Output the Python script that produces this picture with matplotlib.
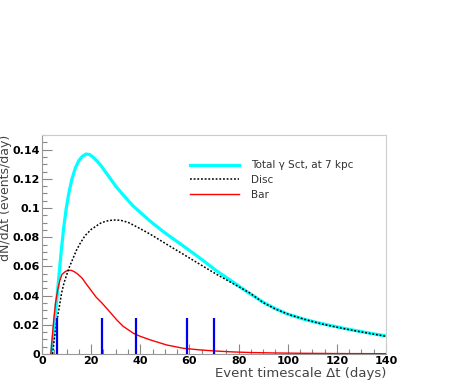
import matplotlib
matplotlib.use("Agg")
import matplotlib.pyplot as plt
from matplotlib.ticker import MultipleLocator, FuncFormatter

# values
total_t = [3.8, 4.5, 5.2, 6.0, 6.8, 7.8, 8.8, 9.8, 10.9, 12.2, 13.6, 15.0, 16.5, 18.0,
           19.5, 21.0, 22.5, 24.0, 27.0, 30.0, 33.0, 37.0, 40.0, 44.0, 50.0, 57.5,
           64.0, 71.0, 78.0, 84.0, 90.0, 95.0, 100.0, 106.0, 112.0, 118.0, 124.0,
           130.0, 135.0, 140.0]
total_v = [0.0, 0.011, 0.022, 0.037, 0.052, 0.070, 0.086, 0.099, 0.110, 0.120, 0.1275,
           0.1325, 0.1355, 0.137, 0.1365, 0.1345, 0.132, 0.129, 0.122, 0.115, 0.109,
           0.1015, 0.097, 0.091, 0.083, 0.074, 0.066, 0.057, 0.049, 0.042, 0.0355,
           0.031, 0.0273, 0.0241, 0.0215, 0.0193, 0.0172, 0.0153, 0.0138, 0.0124]

disc_t = [4.3, 5.0, 6.0, 7.0, 8.0, 9.0, 10.0, 11.0, 12.5, 14.0, 15.6, 17.5, 20.0, 23.7,
          26.0, 29.0, 32.0, 35.0, 37.2, 40.0, 44.0, 50.7, 57.5, 64.3, 71.1, 78.0,
          84.6, 90.0, 95.0, 101.0, 108.0, 114.0, 121.0, 128.0, 134.0, 140.0]
disc_v = [0.0, 0.010, 0.022, 0.032, 0.042, 0.049, 0.054, 0.059, 0.065, 0.071, 0.076,
          0.081, 0.0853, 0.0895, 0.0910, 0.0918, 0.0916, 0.0902, 0.0883, 0.0858,
          0.0821, 0.0752, 0.0683, 0.0614, 0.0545, 0.0480, 0.0418, 0.0352, 0.0308,
          0.0267, 0.0232, 0.0205, 0.0180, 0.0157, 0.0139, 0.0121]

bar_t = [3.6, 4.2, 4.75, 5.5, 6.4, 7.2, 8.1, 9.5, 10.5, 11.9, 13.0, 14.5, 16.3, 18.0,
         20.0, 22.0, 24.4, 27.0, 30.4, 33.0, 37.2, 40.0, 44.0, 50.7, 57.5, 64.3,
         71.0, 78.0, 85.0, 95.0, 105.0, 120.0, 140.0]
bar_v = [0.0, 0.012, 0.023, 0.035, 0.044, 0.050, 0.0545, 0.0565, 0.0572, 0.0573,
         0.0565, 0.0548, 0.052, 0.048, 0.0435, 0.039, 0.0349, 0.030, 0.0234, 0.019,
         0.0142, 0.0121, 0.0097, 0.0062, 0.0039, 0.0028, 0.0020, 0.0014, 0.0010,
         0.0007, 0.0005, 0.0003, 0.0002]

events_t = [6.3, 24.3, 38.3, 59.0, 70.1]
event_h = 0.025

labels = ["Total \u03b3 Sct, at 7 kpc", "Disc", "Bar"]

fig = plt.figure(figsize=(4.63, 3.82), dpi=100)
ax = fig.add_axes([42/463, 28/382, 344/463, 219/382])

ax.plot(total_t, total_v, color="#00ffff", lw=2.3, label=labels[0], zorder=3)
ax.plot(disc_t, disc_v, color="black", lw=1.1, ls=(0, (1.2, 1.2)), label=labels[1], zorder=4)
ax.plot(bar_t, bar_v, color="#ff0000", lw=1.0, label=labels[2], zorder=3)
ax.vlines(events_t, 0, event_h, color="#0000ee", lw=1.6, zorder=5)

ax.set_xlim(0, 140)
ax.set_ylim(0, 0.15)
ax.xaxis.set_major_locator(MultipleLocator(20))
ax.xaxis.set_minor_locator(MultipleLocator(5))
ax.yaxis.set_major_locator(MultipleLocator(0.02))
ax.yaxis.set_minor_locator(MultipleLocator(0.005))
ax.yaxis.set_major_formatter(FuncFormatter(lambda v, p: "%g" % round(v, 3)))

ax.tick_params(which="both", direction="in", colors="#888888", labelcolor="black",
               top=False, right=False, width=0.8)
ax.tick_params(which="major", length=7, pad=1.5)
ax.tick_params(which="minor", length=3.5)
for lab in ax.get_xticklabels() + ax.get_yticklabels():
    lab.set_fontweight("bold")
    lab.set_fontsize(8)

for s in ["left", "bottom"]:
    ax.spines[s].set_color("#999999")
for s in ["top", "right"]:
    ax.spines[s].set_color("#cccccc")

ax.set_xlabel("Event timescale \u0394t (days)", loc="right", fontsize=9.5,
              color="#444444")
ax.xaxis.set_label_coords(1.0, -12.5/219)
ax.set_ylabel("dN/d\u0394t (events/day)", loc="top", fontsize=9,
              color="#444444")
ax.yaxis.set_label_coords(-30/344, 1.0)

ax.legend(loc="upper left", bbox_to_anchor=(0.43, 0.885), frameon=False,
          fontsize=7.5, handlelength=4.7, handletextpad=1.2, labelspacing=0.45,
          borderpad=0, borderaxespad=0, labelcolor="#333333")

fig.savefig("out.png", dpi=100)
